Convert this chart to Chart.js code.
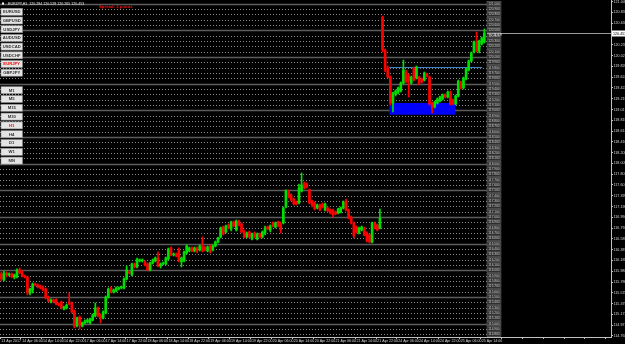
<!DOCTYPE html>
<html>
<head>
<meta charset="utf-8">
<script src="https://cdn.jsdelivr.net/npm/chart.js@4/dist/chart.umd.min.js"></script>
<style>
  html, body { margin: 0; padding: 0; background: #000; }
  canvas { display: block; }
</style>
</head>
<body>
<canvas id="eurjpy" width="625" height="344"></canvas>
<script>
// EURJPY H1, 13 Apr 22:00 -> 25 Apr 15:00 (one value per bar)
const timeLabels = ['13 Apr 2017', '14 Apr 06:00', '14 Apr 14:00', '14 Apr 22:00', '17 Apr 06:00', '17 Apr 14:00',
    '17 Apr 22:00', '18 Apr 06:00', '18 Apr 14:00', '18 Apr 22:00', '19 Apr 06:00', '19 Apr 14:00', '19 Apr 22:00',
    '20 Apr 06:00', '20 Apr 14:00', '20 Apr 22:00', '21 Apr 06:00', '21 Apr 14:00', '21 Apr 22:00', '24 Apr 06:00',
    '24 Apr 14:00', '24 Apr 22:00', '25 Apr 06:00', '25 Apr 14:00'];

const opens = [115.932, 115.819, 115.951, 115.913, 115.932, 115.875, 115.875, 116.007, 115.951, 115.894,
    115.875, 115.575, 115.632, 115.744, 115.725, 115.688, 115.669, 115.650, 115.500, 115.407,
    115.444, 115.444, 115.369, 115.407, 115.275, 115.294, 115.407, 115.388, 115.238, 114.956,
    115.125, 114.956, 115.013, 115.031, 115.013, 115.069, 115.144, 115.294, 115.163, 115.106,
    115.200, 115.500, 115.669, 115.594, 115.613, 115.650, 115.669, 115.669, 115.838, 115.969,
    115.913, 116.119, 116.063, 116.176, 116.176, 116.157, 116.119, 116.007, 116.138, 116.176,
    116.232, 116.082, 116.119, 116.119, 116.213, 116.420, 116.288, 116.307, 116.382, 116.157,
    116.176, 116.326, 116.363, 116.420, 116.363, 116.420, 116.382, 116.457, 116.420, 116.363,
    116.457, 116.382, 116.457, 116.532, 116.626, 116.813, 116.720, 116.851, 116.776, 116.907,
    116.757, 116.926, 116.870, 116.738, 116.626, 116.720, 116.588, 116.701, 116.588, 116.682,
    116.626, 116.701, 116.813, 116.757, 116.888, 116.813, 116.907, 116.870, 116.888, 117.189,
    117.489, 117.414, 117.339, 117.282, 117.264, 117.489, 117.639, 117.620, 117.508, 117.301,
    117.264, 117.170, 117.226, 117.245, 117.132, 117.170, 117.132, 117.132, 117.095, 117.076,
    117.095, 117.170, 117.301, 117.132, 117.001, 116.888, 116.813, 116.701, 116.757, 116.795,
    116.701, 116.663, 116.532, 116.888, 116.851, 116.795, 120.753, 120.134, 119.796, 119.627,
    119.140, 119.309, 119.346, 119.365, 119.515, 119.721, 119.646, 119.515, 119.796, 119.609,
    119.627, 119.590, 119.571, 119.684, 119.627, 119.140, 119.065, 119.140, 119.177, 119.215,
    119.290, 119.252, 119.346, 119.196, 119.121, 119.271, 119.534, 119.421, 119.590, 119.759,
    119.928, 120.097, 120.284, 120.115, 120.247, 120.284];

const highs = [115.969, 115.988, 115.969, 115.951, 115.951, 115.932, 116.026, 116.044, 115.988, 115.913,
    115.894, 115.669, 115.763, 115.763, 115.744, 115.725, 115.707, 115.669, 115.519, 115.463,
    115.463, 115.463, 115.388, 115.425, 115.331, 115.369, 115.575, 115.407, 115.256, 115.125,
    115.144, 115.031, 115.069, 115.087, 115.106, 115.181, 115.388, 115.313, 115.181, 115.238,
    115.519, 115.669, 115.688, 115.650, 115.688, 115.688, 115.707, 115.857, 116.082, 115.988,
    116.138, 116.138, 116.232, 116.213, 116.213, 116.176, 116.138, 116.157, 116.213, 116.251,
    116.345, 116.138, 116.157, 116.251, 116.420, 116.439, 116.326, 116.326, 116.420, 116.251,
    116.363, 116.476, 116.439, 116.439, 116.439, 116.439, 116.476, 116.626, 116.457, 116.457,
    116.476, 116.476, 116.551, 116.626, 116.813, 116.832, 116.851, 116.870, 116.926, 116.926,
    116.945, 116.945, 116.888, 116.757, 116.720, 116.738, 116.701, 116.720, 116.701, 116.701,
    116.738, 116.832, 116.832, 116.851, 116.907, 116.907, 116.926, 116.907, 117.189, 117.508,
    117.508, 117.433, 117.357, 117.301, 117.620, 117.827, 117.658, 117.639, 117.527, 117.320,
    117.282, 117.245, 117.245, 117.264, 117.264, 117.189, 117.151, 117.151, 117.114, 117.170,
    117.189, 117.301, 117.339, 117.151, 117.020, 116.907, 116.832, 116.813, 116.832, 116.813,
    116.720, 116.682, 116.907, 116.907, 116.870, 117.151, 120.772, 120.153, 119.834, 119.646,
    119.346, 119.384, 119.440, 119.534, 119.946, 119.759, 119.684, 119.646, 119.815, 119.834,
    119.646, 119.609, 119.721, 119.703, 119.646, 119.159, 119.177, 119.234, 119.271, 119.309,
    119.309, 119.365, 119.365, 119.215, 119.290, 119.571, 119.552, 119.627, 119.796, 119.946,
    120.097, 120.303, 120.472, 120.322, 120.378, 120.528];

const lows = [115.801, 115.801, 115.875, 115.894, 115.857, 115.838, 115.857, 115.932, 115.875, 115.857,
    115.538, 115.538, 115.575, 115.707, 115.669, 115.650, 115.613, 115.463, 115.407, 115.388,
    115.388, 115.350, 115.331, 115.275, 115.256, 115.275, 115.350, 115.200, 114.919, 114.937,
    114.900, 114.937, 114.994, 115.013, 114.994, 115.050, 115.125, 115.125, 115.013, 115.087,
    115.181, 115.482, 115.575, 115.575, 115.594, 115.632, 115.650, 115.650, 115.819, 115.932,
    115.894, 116.044, 116.044, 116.157, 116.157, 116.082, 115.988, 115.988, 116.119, 116.157,
    116.063, 116.044, 116.101, 116.101, 116.194, 116.269, 116.269, 116.251, 116.157, 116.063,
    116.157, 116.307, 116.345, 116.345, 116.345, 116.326, 116.363, 116.345, 116.363, 116.345,
    116.326, 116.363, 116.439, 116.513, 116.607, 116.663, 116.701, 116.776, 116.738, 116.813,
    116.738, 116.832, 116.701, 116.607, 116.607, 116.607, 116.570, 116.607, 116.570, 116.607,
    116.607, 116.663, 116.757, 116.720, 116.813, 116.795, 116.813, 116.701, 116.870, 117.170,
    117.357, 117.301, 117.226, 117.226, 117.245, 117.470, 117.527, 117.545, 117.245, 117.189,
    117.132, 117.151, 117.114, 117.170, 117.114, 117.095, 117.057, 117.001, 117.039, 117.057,
    117.076, 117.151, 117.114, 116.963, 116.870, 116.607, 116.701, 116.682, 116.738, 116.645,
    116.532, 116.513, 116.513, 116.776, 116.738, 116.776, 120.097, 119.721, 119.609, 119.102,
    118.971, 119.271, 119.309, 119.346, 119.496, 119.515, 119.252, 119.496, 119.552, 119.590,
    119.477, 119.515, 119.552, 119.627, 119.102, 118.952, 119.046, 119.121, 119.159, 119.196,
    119.234, 119.234, 119.102, 119.102, 119.102, 119.252, 119.402, 119.402, 119.571, 119.740,
    119.909, 120.078, 120.097, 120.078, 120.228, 120.265];

const closes = [115.838, 115.951, 115.913, 115.932, 115.875, 115.913, 116.007, 115.951, 115.894, 115.875,
    115.575, 115.650, 115.744, 115.725, 115.688, 115.669, 115.632, 115.482, 115.425, 115.444,
    115.407, 115.369, 115.350, 115.294, 115.313, 115.350, 115.369, 115.219, 114.956, 115.106,
    114.975, 115.013, 115.050, 115.069, 115.087, 115.163, 115.294, 115.144, 115.106, 115.219,
    115.500, 115.650, 115.594, 115.632, 115.669, 115.669, 115.688, 115.838, 116.007, 115.951,
    116.119, 116.063, 116.213, 116.194, 116.194, 116.101, 116.007, 116.138, 116.194, 116.232,
    116.082, 116.119, 116.138, 116.232, 116.401, 116.288, 116.307, 116.269, 116.176, 116.232,
    116.345, 116.457, 116.420, 116.363, 116.420, 116.363, 116.457, 116.363, 116.382, 116.439,
    116.345, 116.457, 116.532, 116.607, 116.795, 116.682, 116.832, 116.795, 116.907, 116.832,
    116.926, 116.851, 116.720, 116.626, 116.701, 116.626, 116.682, 116.626, 116.682, 116.626,
    116.720, 116.795, 116.776, 116.832, 116.832, 116.888, 116.832, 116.757, 117.170, 117.489,
    117.376, 117.320, 117.245, 117.245, 117.545, 117.601, 117.545, 117.564, 117.264, 117.226,
    117.151, 117.226, 117.132, 117.189, 117.245, 117.114, 117.076, 117.039, 117.057, 117.151,
    117.170, 117.282, 117.132, 116.982, 116.888, 116.645, 116.720, 116.795, 116.813, 116.663,
    116.551, 116.532, 116.888, 116.795, 116.757, 116.982, 120.134, 119.759, 119.627, 119.140,
    119.327, 119.365, 119.421, 119.515, 119.759, 119.534, 119.552, 119.627, 119.571, 119.815,
    119.496, 119.534, 119.703, 119.646, 119.121, 119.046, 119.159, 119.215, 119.252, 119.290,
    119.252, 119.346, 119.121, 119.121, 119.271, 119.552, 119.421, 119.609, 119.778, 119.928,
    120.078, 120.284, 120.115, 120.303, 120.359, 120.453];

const priceTicks = [121.040, 120.838, 120.635, 120.433, 120.231, 120.029, 119.826, 119.624, 119.422, 119.219,
    119.017, 118.815, 118.612, 118.410, 118.208, 118.005, 117.803, 117.601, 117.399, 117.196,
    116.994, 116.792, 116.589, 116.387, 116.185, 115.982, 115.780, 115.578, 115.375, 115.173,
    114.971, 114.768];

const symbolButtons = ['EURUSD', 'GBPUSD', 'USDJPY', 'AUDUSD', 'USDCAD', 'USDCHF', 'EURJPY', 'GBPJPY'];
const periodButtons = ['M1', 'M5', 'M15', 'M30', 'H1', 'H4', 'D1', 'W1', 'MN'];

const bidPrice = 120.453;
const zoneTop = 119.14, zoneBottom = 118.92;
const trendLevel = 119.815;

const SLOTS = 234;
const BULL = '#00e000';
const BEAR = '#ff0000';

const slotLabels = Array.from({ length: SLOTS }, (_, i) => (i % 8 === 0 && timeLabels[i / 8]) ? timeLabels[i / 8] : '');
const barColors = closes.map((c, i) => c >= opens[i] ? BULL : BEAR);

const mtOverlay = {
    id: 'mtOverlay',
    beforeDraw(chart) {
        const ctx = chart.ctx;
        ctx.save();
        ctx.fillStyle = '#000';
        ctx.fillRect(0, 0, chart.width, chart.height);
        ctx.restore();
    },
    beforeDatasetsDraw(chart) {
        const { ctx, scales: { x, y } } = chart;
        const lineEnd = x.getPixelForValue(186);
        ctx.save();
        // price levels every 0.1, solid every 0.5
        for (let k = 1148; k <= 1210; k++) {
            const py = Math.round(y.getPixelForValue(k / 10)) + 0.5;
            ctx.beginPath();
            if (k % 5 === 0) {
                ctx.setLineDash([]);
                ctx.strokeStyle = '#5c5c5c';
                ctx.lineWidth = 1.5;
            } else {
                ctx.setLineDash([1, 2]);
                ctx.strokeStyle = '#8a8a8a';
                ctx.lineWidth = 1;
            }
            ctx.moveTo(0, py);
            ctx.lineTo(lineEnd, py);
            ctx.stroke();
        }
        ctx.setLineDash([]);

        // blue zone
        const zx0 = x.getPixelForValue(148.6), zx1 = x.getPixelForValue(173.8);
        const zy0 = y.getPixelForValue(zoneTop), zy1 = y.getPixelForValue(zoneBottom);
        ctx.fillStyle = '#0000ff';
        ctx.fillRect(zx0, zy0, zx1 - zx0, zy1 - zy0);

        // trend level
        const ty = Math.round(y.getPixelForValue(trendLevel)) + 0.5;
        ctx.strokeStyle = '#3d82c8';
        ctx.lineWidth = 1;
        ctx.beginPath();
        ctx.moveTo(zx0, ty);
        ctx.lineTo(x.getPixelForValue(184.2), ty);
        ctx.stroke();
        ctx.restore();
    },
    afterDraw(chart) {
        const { ctx, scales: { x, y }, chartArea } = chart;
        ctx.save();

        // level price tags
        const tagX = x.getPixelForValue(186);
        ctx.font = '3.2px Arial';
        ctx.textAlign = 'center';
        ctx.textBaseline = 'middle';
        for (let k = 1148; k <= 1210; k++) {
            const py = y.getPixelForValue(k / 10);
            ctx.fillStyle = '#2e2e2e';
            ctx.fillRect(tagX, py - 2.2, 14, 4.4);
            ctx.strokeStyle = '#7a7a7a';
            ctx.lineWidth = 0.5;
            ctx.strokeRect(tagX, py - 2.2, 14, 4.4);
            ctx.fillStyle = '#d0d0d0';
            ctx.fillText((k / 10).toFixed(3), tagX + 7, py);
        }

        // price axis labels
        ctx.textAlign = 'left';
        ctx.font = '3.7px Arial';
        ctx.fillStyle = '#d4d4d4';
        priceTicks.forEach(v => {
            ctx.fillText(v.toFixed(3), chartArea.right + 2.5, y.getPixelForValue(v));
        });

        // bid line + price tag
        const by = Math.round(y.getPixelForValue(bidPrice)) + 0.5;
        ctx.strokeStyle = '#9a9a9a';
        ctx.lineWidth = 1;
        ctx.beginPath();
        ctx.moveTo(tagX, by);
        ctx.lineTo(chartArea.right, by);
        ctx.stroke();
        ctx.fillStyle = '#ffffff';
        ctx.fillRect(chartArea.right + 1, by - 3, 13, 6);
        ctx.fillStyle = '#000';
        ctx.font = '3.7px Arial';
        ctx.fillText(bidPrice.toFixed(3), chartArea.right + 2, by);
        ctx.fillStyle = '#e8e8e8';
        ctx.font = '3.5px Arial';
        ctx.fillText('<- 11:19', tagX + 2, by + 1.5);

        // header
        ctx.fillStyle = '#ffffff';
        ctx.fillRect(2, 2.5, 2, 2);
        ctx.fillStyle = '#e8e8e8';
        ctx.font = '3.6px Arial';
        ctx.fillText('EURJPY,H1  ' + [opens, highs, lows, closes].map(a => a[a.length - 1].toFixed(3)).join(' '), 8, 4);
        ctx.fillStyle = '#ff1010';
        ctx.font = 'bold 4.3px Arial';
        ctx.fillText('Spread: 3 points', 99, 6.5);

        // symbol / period buttons
        const drawButton = (label, top, active) => {
            ctx.fillStyle = '#e4e4e4';
            ctx.fillRect(1, top, 21.5, 7);
            ctx.strokeStyle = '#8c8c8c';
            ctx.lineWidth = 0.6;
            ctx.strokeRect(1, top, 21.5, 7);
            ctx.fillStyle = active ? '#ff0000' : '#303030';
            ctx.font = 'bold 4.2px Arial';
            ctx.textAlign = 'center';
            ctx.fillText(label, 11.75, top + 3.7);
        };
        symbolButtons.forEach((s, i) => drawButton(s, 8.3 + i * 8.7, s === 'EURJPY'));
        periodButtons.forEach((p, i) => drawButton(p, 86.7 + i * 8.8, p === 'H1'));
        ctx.restore();
    }
};

new Chart(document.getElementById('eurjpy'), {
    type: 'bar',
    data: {
        labels: slotLabels,
        datasets: [
            {
                label: 'Body',
                data: opens.map((o, i) => [o, closes[i]]),
                backgroundColor: barColors,
                barThickness: 2,
                minBarLength: 1,
                grouped: false,
                borderWidth: 0,
                order: 0
            },
            {
                label: 'Wick',
                data: lows.map((l, i) => [l, highs[i]]),
                backgroundColor: barColors,
                barThickness: 1,
                grouped: false,
                borderWidth: 0,
                order: 1
            }
        ]
    },
    options: {
        responsive: false,
        animation: false,
        layout: { padding: 0 },
        plugins: { legend: { display: false }, tooltip: { enabled: false } },
        scales: {
            x: {
                offset: true,
                grid: {
                    drawOnChartArea: false,
                    tickLength: 2,
                    color: c => (c.index % 8 === 0 ? '#c0c0c0' : 'rgba(0,0,0,0)')
                },
                border: { color: '#c0c0c0' },
                ticks: {
                    autoSkip: false,
                    maxRotation: 0,
                    minRotation: 0,
                    align: 'start',
                    padding: 0,
                    color: '#d8d8d8',
                    font: { family: 'Arial', size: 3.6 },
                    callback: (v, i) => slotLabels[i]
                },
                afterFit: s => { s.height = 7; s.paddingLeft = 0; s.paddingRight = 0; }
            },
            y: {
                position: 'right',
                min: 114.749,
                max: 121.072,
                afterBuildTicks: s => { s.ticks = priceTicks.map(v => ({ value: v })); },
                grid: { drawOnChartArea: false, tickLength: 2, color: '#c0c0c0' },
                border: { color: '#c0c0c0' },
                ticks: { display: false },
                afterFit: s => { s.width = 14; s.paddingTop = 0; s.paddingBottom = 0; }
            }
        }
    },
    plugins: [mtOverlay]
});
</script>
</body>
</html>
